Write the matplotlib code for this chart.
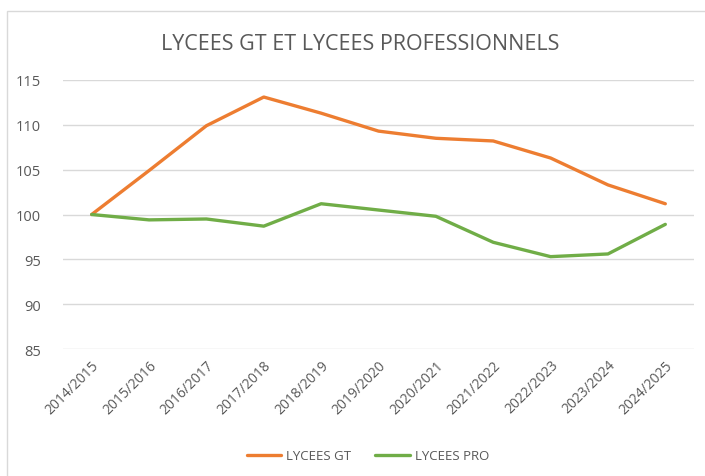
import matplotlib
matplotlib.use("agg")
import matplotlib.pyplot as plt
from matplotlib.patches import Rectangle

# school years (category axis)
years = ['2014/2015', '2015/2016', '2016/2017', '2017/2018', '2018/2019',
         '2019/2020', '2020/2021', '2021/2022', '2022/2023', '2023/2024',
         '2024/2025']
# index values, base 100 in 2014/2015
lycees_gt = [100, 104.9, 109.9, 113.1, 111.3, 109.3, 108.5, 108.2, 106.3, 103.3, 101.2]
lycees_pro = [100, 99.4, 99.5, 98.7, 101.2, 100.5, 99.8, 96.9, 95.3, 95.6, 98.9]
y_ticks = [85, 90, 95, 100, 105, 110, 115]

plt.rcParams['font.family'] = ['Open Sans', 'DejaVu Sans']
grey_txt = '#595959'

fig = plt.figure(figsize=(7.05, 4.77), dpi=100)
# light chart frame like the excel chart area
fig.patches.append(Rectangle((7 / 705, -0.01), 1.0, 1 - 12 / 477 + 0.01,
                             transform=fig.transFigure, fill=False,
                             edgecolor='#d9d9d9', linewidth=1))

ax = fig.add_axes([63 / 705, 1 - 350 / 477, (694 - 63) / 705, (350 - 81) / 477])
x = list(range(len(years)))
ax.plot(x, lycees_gt, color='#ED7D31', linewidth=2.4, label='LYCEES GT',
        solid_capstyle='round', solid_joinstyle='round')
ax.plot(x, lycees_pro, color='#70AD47', linewidth=2.4, label='LYCEES PRO',
        solid_capstyle='round', solid_joinstyle='round')

ax.set_xlim(-0.5, len(years) - 0.5)
ax.set_ylim(85, 115)
ax.set_yticks(y_ticks)
ax.set_xticks(x)
ax.set_xticklabels(years, rotation=45, ha='right', rotation_mode='anchor')
ax.tick_params(axis='both', length=0, colors=grey_txt)
ax.tick_params(axis='x', pad=6, labelsize=10)
ax.tick_params(axis='y', pad=16, labelsize=10.5)
ax.grid(axis='y', color='#d9d9d9', linewidth=1)
ax.set_axisbelow(True)
for s in ax.spines.values():
    s.set_visible(False)

fig.text(360 / 705, 1 - 45 / 477, 'LYCEES GT ET LYCEES PROFESSIONNELS',
         ha='center', va='center', fontsize=15.5, color=grey_txt)

fig.legend(loc='center', bbox_to_anchor=(368 / 705, 1 - 457 / 477), ncol=2,
           frameon=False, fontsize=9.5, labelcolor=grey_txt,
           handlelength=2.6, columnspacing=1.8, handletextpad=0.4)

fig.savefig('out.png', dpi=100)
